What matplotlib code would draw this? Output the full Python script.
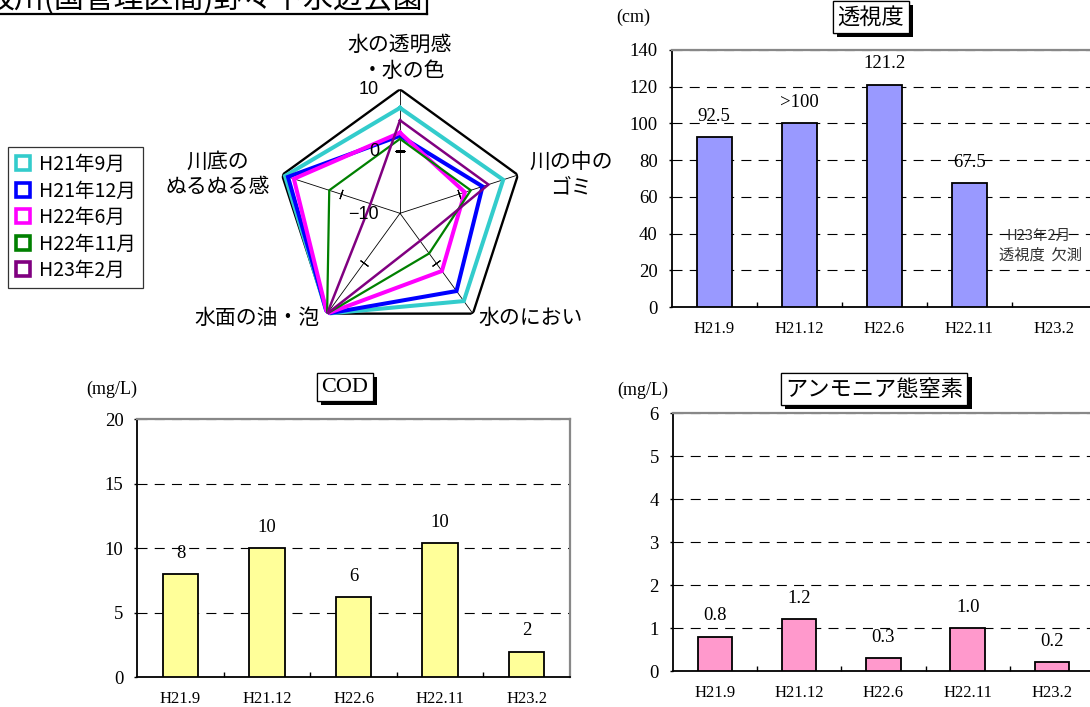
# plot.py
import numpy as np
import matplotlib.pyplot as plt
import matplotlib.patheffects as pe
from matplotlib.lines import Line2D
from matplotlib.ticker import FixedLocator

JP = ['Noto Sans CJK JP', 'DejaVu Sans']
SERIF = 'Liberation Serif'
plt.rcParams['font.family'] = JP

# -----------------------------
# data
# -----------------------------
page_title = '坂川(国管理区間)野々下水辺公園'

radar_axes = ['水の透明感\n・水の色', '川の中の\nゴミ', '水のにおい', '水面の油・泡', '川底の\nぬるぬる感']
radar_names = ['H21年9月', 'H21年12月', 'H22年6月', 'H22年11月', 'H23年2月']
radar_colors = ['#33CCCC', '#0000FF', '#FF00FF', '#008000', '#800080']
radar_widths = [2.9, 2.9, 2.9, 1.6, 1.8]
score_h21_9 = [7, 7.5, 7.5, 10, 9.5]
score_h21_12 = [2.5, 4, 5.5, 10, 9]
score_h22_6 = [3, 1, 1.5, 10, 8]
score_h22_11 = [2, 2, -2, 10, 2]
score_h23_2 = [5, 5, -4.5, 10, -5]
radar_scores = [score_h21_9, score_h21_12, score_h22_6, score_h22_11, score_h23_2]
radar_ticks = [10, 0, -10]

dates = ['H21.9', 'H21.12', 'H22.6', 'H22.11', 'H23.2']
transparency = [92.5, 100, 121.2, 67.5, np.nan]
transparency_labels = ['92.5', '>100', '121.2', '67.5', '']
cod = [8, 10, 6.2, 10.4, 2]
cod_labels = ['8', '10', '6', '10', '2']
ammonia = [0.8, 1.2, 0.3, 1.0, 0.2]
ammonia_labels = ['0.8', '1.2', '0.3', '1.0', '0.2']

# -----------------------------
# figure helpers (pixel -> figure fraction)
# -----------------------------
W, H = 1090, 707
fig = plt.figure(figsize=(W / 100, H / 100), dpi=100)


def fx(px):
    return px / W


def fy(py):
    return 1 - py / H


def rect(l, t, r, b):
    return [l / W, 1 - b / H, (r - l) / W, (b - t) / H]


# page title (cut off at the top of the picture)
fig.text(fx(423), fy(8), page_title, ha='right', va='baseline', fontsize=21.5)
fig.add_artist(Line2D([0, fx(427)], [fy(14), fy(14)], color='black', lw=1.6))
fig.add_artist(Line2D([fx(427), fx(427)], [fy(14), 1.0], color='black', lw=1.6))

# -----------------------------
# radar chart
# -----------------------------
cx, cy, R = 400, 213.3, 124
ax = fig.add_axes(rect(cx - R, cy - R, cx + R, cy + R), projection='polar')
ax.set_theta_zero_location('N')
ax.set_theta_direction(-1)
ax.set_ylim(-10, 10)
ax.set_axis_off()

theta = np.linspace(0, 2 * np.pi, len(radar_axes), endpoint=False)
closed = np.r_[theta, theta[0]]

for t in theta:
    ax.plot([t, t], [-10, 10], color='black', lw=0.6)
    ang = 90 - np.degrees(t)
    ax.plot([t], [0], marker=(2, 2, ang), ms=7, mew=0.8, color='black')
ax.plot(closed, [10] * len(closed), color='black', lw=1.7)

for vals, col, lw in zip(radar_scores, radar_colors, radar_widths):
    ax.plot(closed, np.r_[vals, vals[0]], color=col, lw=lw, solid_joinstyle='miter')

for v in radar_ticks:
    lab = str(v).replace('-', '\u2212')
    ax.annotate(lab, (0, v), xytext=(-15, -1 if v < 0 else 0), textcoords='offset points',
                ha='right', va='center', fontsize=13, family='Liberation Sans')

# axis captions
label_pos = [(400, 45), (571, 161.7), (478, 318.3), (320, 318.3), (218, 161.7)]
label_ha = ['center', 'center', 'left', 'right', 'center']
for k, (name, (px, py), ha) in enumerate(zip(radar_axes, label_pos, label_ha)):
    for i, ln in enumerate(name.split('\n')):
        shift = 3 if (k == 0 and i == 1) else 0
        fig.text(fx(px + shift), fy(py + 25.5 * i), ln, ha=ha, va='center', fontsize=15)

handles = [Line2D([], [], ls='none', marker='s', ms=10.5, mfc='white', mec=c, mew=2.6)
           for c in radar_colors]
leg = fig.legend(handles, radar_names, loc='upper left',
                 bbox_to_anchor=(fx(8.3), fy(147.3)), frameon=True, fancybox=False,
                 edgecolor='black', fontsize=14, handlelength=0.8, handletextpad=0.45,
                 labelspacing=0.28, borderpad=0.35, borderaxespad=0)
leg.get_frame().set_linewidth(0.9)


# -----------------------------
# bar charts
# -----------------------------
def bar_panel(box, values, labels, color, ymax, ystep, title, title_xy, title_font,
              unit, unit_xy):
    bx = fig.add_axes(rect(*box))
    x = np.arange(len(dates))
    bx.bar(x, values, width=0.41, color=color, edgecolor='black', lw=1.3, zorder=3)
    for xi, v, lab in zip(x, values, labels):
        if lab:
            bx.annotate(lab, (xi, v), xytext=(0, 15), textcoords='offset points',
                        ha='center', va='center', fontsize=13.5, family=SERIF)
    bx.set_xlim(-0.5, len(dates) - 0.5)
    bx.set_ylim(0, ymax)
    bx.set_yticks(np.arange(0, ymax + ystep / 2, ystep))
    bx.set_xticks(x)
    bx.set_xticklabels(dates, family=SERIF, fontsize=12)
    bx.xaxis.set_minor_locator(FixedLocator(x[:-1] + 0.5))
    bx.tick_params(axis='x', which='major', length=0, pad=10)
    bx.tick_params(axis='x', which='minor', direction='in', length=3.4, width=1)
    bx.tick_params(axis='y', length=2.5, width=1, pad=7.5, labelsize=13.5)
    for t in bx.get_yticklabels():
        t.set_family(SERIF)
    bx.set_axisbelow(True)
    bx.yaxis.grid(True, color='black', lw=0.8, ls=(0, (9, 6.5)))
    for s in ['left', 'bottom']:
        bx.spines[s].set_color('black')
        bx.spines[s].set_linewidth(1.3)
    for s in ['top', 'right']:
        bx.spines[s].set_color('#888888')
        bx.spines[s].set_linewidth(1.6)
    t = fig.text(fx(title_xy[0]), fy(title_xy[1]), title, ha='center', va='center',
                 fontsize=16, family=title_font,
                 bbox=dict(boxstyle='square,pad=0.2', fc='white', ec='black', lw=0.9))
    t.get_bbox_patch().set_path_effects(
        [pe.withSimplePatchShadow(offset=(3, -3), shadow_rgbFace='black', alpha=1.0), pe.Normal()])
    fig.text(fx(unit_xy[0]), fy(unit_xy[1]), unit, ha='center', va='center',
             fontsize=13, family=SERIF)
    return bx


ax1 = bar_panel((671.7, 50, 1096.7, 307), transparency, transparency_labels, '#9999FF',
                140, 20, '透視度', (870.7, 17), JP, '(cm)', (633, 17))
ax1.text(3.82, 38.7, 'H23年2月', ha='center', va='center', fontsize=10.5, color='#333333')
ax1.text(3.84, 28.3, '透視度  欠測', ha='center', va='center', fontsize=11, color='#333333')

ax2 = bar_panel((137.3, 419.3, 570, 677.3), cod, cod_labels, '#FFFF99',
                20, 5, 'COD', (345, 387), SERIF, '(mg/L)', (111.5, 389))

ax3 = bar_panel((672.7, 413.3, 1094.2, 671), ammonia, ammonia_labels, '#FF99CC',
                6, 1, 'アンモニア態窒素', (874, 389), JP, '(mg/L)', (643, 390))

plt.savefig('out.png', dpi=100)
